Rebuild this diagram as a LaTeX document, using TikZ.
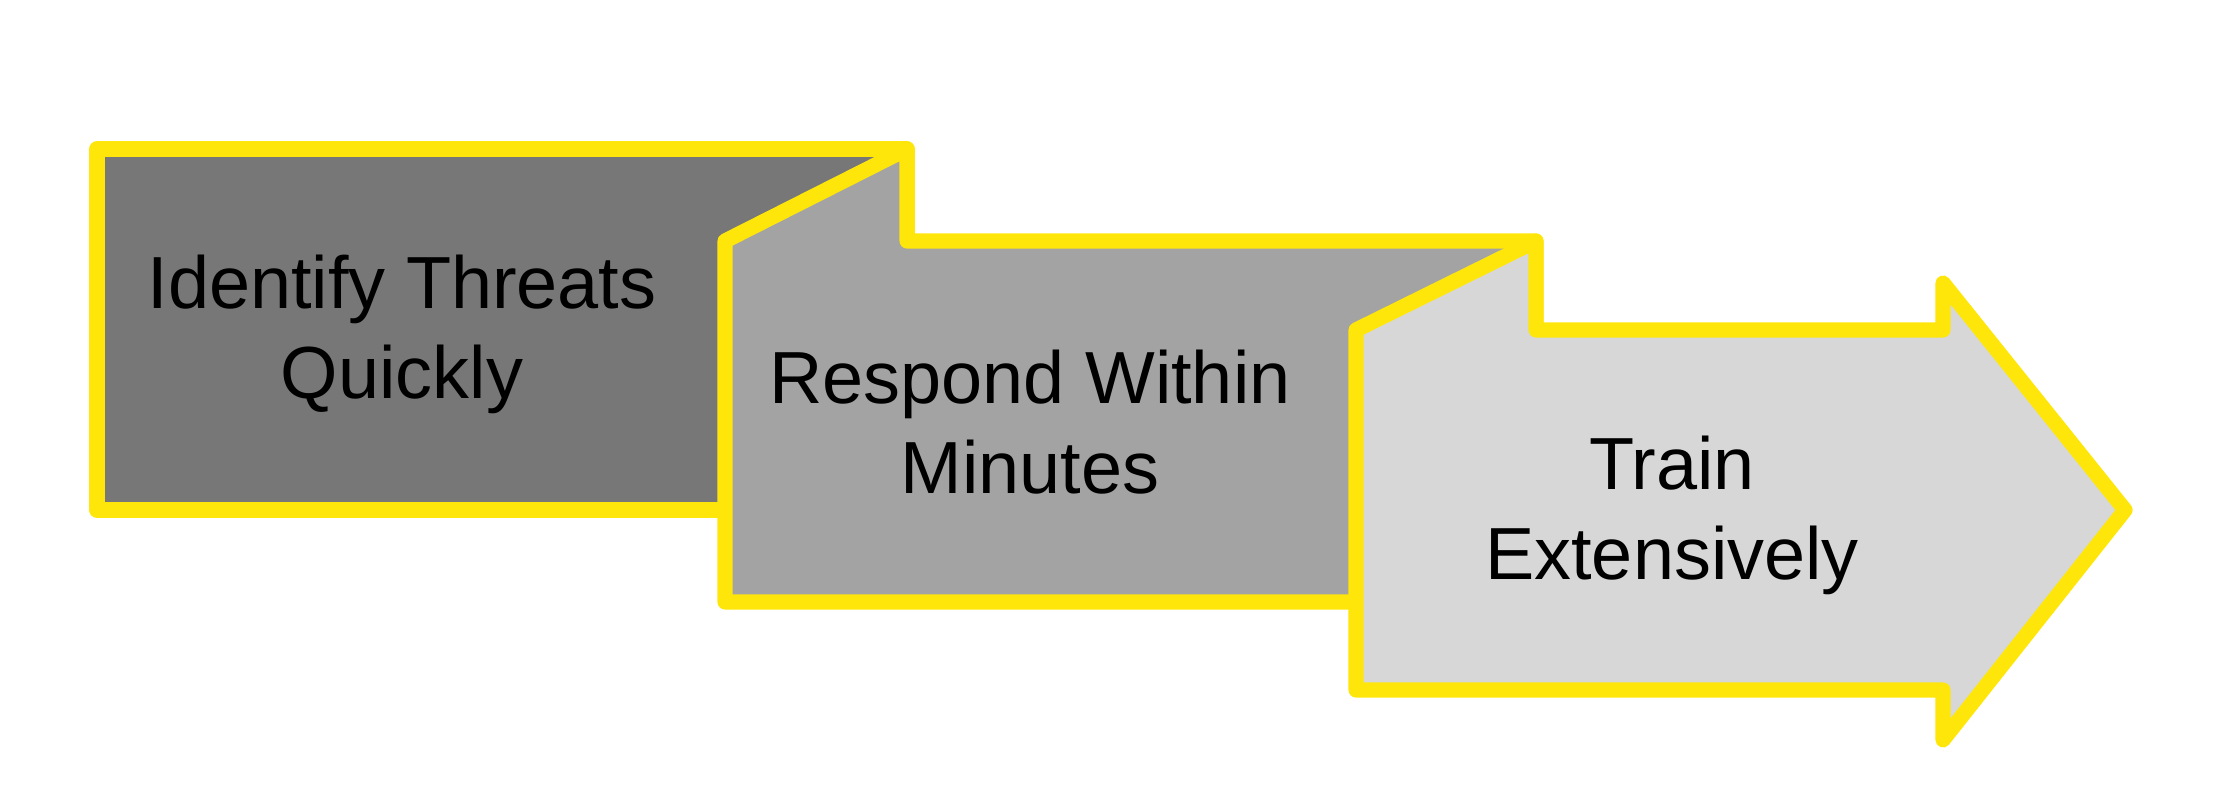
\documentclass[tikz,border=0pt]{standalone}
\usepackage{fontspec}
\setmainfont{Liberation Sans}
\usetikzlibrary{positioning}
\definecolor{stepyellow}{HTML}{FFE60A}
\definecolor{stepdark}{HTML}{777777}
\definecolor{stepmid}{HTML}{A3A3A3}
\definecolor{steplight}{HTML}{D7D7D7}

\begin{document}
\begin{tikzpicture}[x=0.01cm, y=-0.01cm,
    blockline/.style={draw=stepyellow, line width=4.3pt, line join=round},
    steplabel/.style={font=\fontsize{21}{25.6}\selectfont, align=center, text=black}]
  \useasboundingbox (0,0) rectangle (2221,797);
  % first block
  \filldraw[blockline, fill=stepdark] (97,149) rectangle (907,510);
  % second block, folded onto the first
  \filldraw[blockline, fill=stepmid] (725,241) -- (907,149) -- (907,241)
    -- (1536,241) -- (1536,602) -- (725,602) -- cycle;
  % last block as an arrow
  \filldraw[blockline, fill=steplight] (1356,330) -- (1536,241) -- (1536,330)
    -- (1943,330) -- (1943,283) -- (2125,510) -- (1943,740) -- (1943,690)
    -- (1356,690) -- cycle;
  \node[steplabel] (identify) at (402,334) {Identify Threats\\Quickly};
  \node[steplabel] (respond) at (1030,422) {Respond Within\\Minutes};
  \node[steplabel] (train) at (1672,515) {Train\\Extensively};
\end{tikzpicture}
\end{document}
